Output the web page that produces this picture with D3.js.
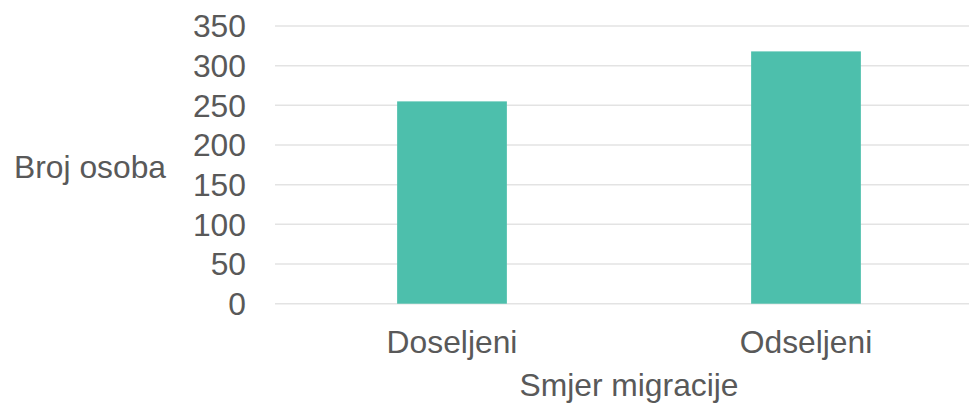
<!DOCTYPE html>
<html>
<head>
<meta charset="utf-8">
<script src="https://cdn.jsdelivr.net/npm/d3@7"></script>
<style>
  body { margin: 0; background: #fff; }
  svg { display: block; }
</style>
</head>
<body>
<div id="chart"></div>
<script>
// data
var categories = ["Doseljeni", "Odseljeni"];
var values = [255, 318];
var yTicks = [0, 50, 100, 150, 200, 250, 300, 350];

var W = 969, H = 404;
var plotLeft = 275, plotRight = 983, plotTop = 26, plotBottom = 303.7;
var fontFamily = "'Liberation Sans', Arial, sans-serif";
var fontSize = "31.8px";
var textColor = "#595959";

var svg = d3.select("#chart")
    .append("svg")
    .attr("width", W)
    .attr("height", H);

var x = d3.scaleBand()
    .domain(categories)
    .range([plotLeft, plotRight])
    .paddingInner(0.69)
    .paddingOuter(0.345);

var y = d3.scaleLinear()
    .domain([0, 350])
    .range([plotBottom, plotTop]);

// gridlines
svg.append("g")
    .selectAll("line")
    .data(yTicks)
    .enter()
    .append("line")
    .attr("x1", plotLeft)
    .attr("x2", plotRight)
    .attr("y1", function (d) { return y(d); })
    .attr("y2", function (d) { return y(d); })
    .attr("stroke", "#e3e3e3")
    .attr("stroke-width", 1.5);

// y tick labels
svg.append("g")
    .selectAll("text")
    .data(yTicks)
    .enter()
    .append("text")
    .attr("x", 246)
    .attr("y", function (d) { return y(d); })
    .attr("dy", "0.36em")
    .attr("text-anchor", "end")
    .style("font-family", fontFamily)
    .style("font-size", fontSize)
    .style("fill", textColor)
    .text(function (d) { return d; });

// bars
svg.append("g")
    .selectAll("rect")
    .data(values)
    .enter()
    .append("rect")
    .attr("x", function (d, i) { return x(categories[i]); })
    .attr("width", x.bandwidth())
    .attr("y", function (d) { return y(d); })
    .attr("height", function (d) { return y(0) - y(d); })
    .style("fill", "#4dbfac");

// x labels
svg.append("g")
    .selectAll("text")
    .data(categories)
    .enter()
    .append("text")
    .attr("x", function (d) { return x(d) + x.bandwidth() / 2; })
    .attr("y", 353)
    .attr("text-anchor", "middle")
    .style("font-family", fontFamily)
    .style("font-size", fontSize)
    .style("fill", textColor)
    .text(function (d) { return d; });

// axis titles
svg.append("text")
    .attr("x", (plotLeft + plotRight) / 2)
    .attr("y", 396)
    .attr("text-anchor", "middle")
    .style("font-family", fontFamily)
    .style("font-size", fontSize)
    .style("fill", textColor)
    .text("Smjer migracije");

svg.append("text")
    .attr("x", 14)
    .attr("y", 178)
    .attr("text-anchor", "start")
    .style("font-family", fontFamily)
    .style("font-size", fontSize)
    .style("fill", textColor)
    .text("Broj osoba");
</script>
</body>
</html>
